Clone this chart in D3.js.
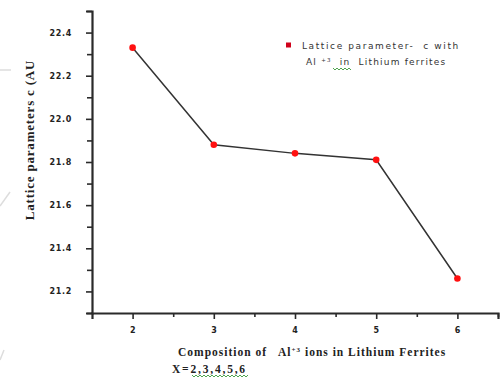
<!DOCTYPE html>
<html>
<head>
<meta charset="utf-8">
<script src="https://cdn.jsdelivr.net/npm/d3@7"></script>
<style>
  html, body { margin: 0; padding: 0; background: #fff; }
  svg { display: block; }
  svg text { white-space: pre; }
</style>
</head>
<body>
<svg id="chart" width="504" height="378"></svg>
<script>
// Aluminium content x in the lithium ferrite series
const composition = [2, 3, 4, 5, 6];
// Lattice parameter c (Å) for each composition
const latticeC = [22.33, 21.88, 21.84, 21.81, 21.26];
const yTickValues = [21.2, 21.4, 21.6, 21.8, 22.0, 22.2, 22.4];
const yMinorValues = [21.1, 21.3, 21.5, 21.7, 21.9, 22.1, 22.3, 22.5];
const xTickValues = [2, 3, 4, 5, 6];
const xMinorValues = [2.5, 3.5, 4.5, 5.5, 6.5];

const svg = d3.select("#chart");

const x = d3.scaleLinear().domain([1.5, 6.5]).range([92, 498]);
const y = d3.scaleLinear().domain([21.1, 22.5]).range([313, 11]);

// faint page decoration at the left edge
const deco = svg.append("g").attr("stroke", "#ddd").attr("fill", "none").attr("stroke-width", 1.5);
deco.append("line").attr("x1", 0).attr("y1", 70).attr("x2", 11).attr("y2", 70);
deco.append("line").attr("x1", 0).attr("y1", 206).attr("x2", 10).attr("y2", 192);
deco.append("line").attr("x1", 0).attr("y1", 360).attr("x2", 4).attr("y2", 350);

// Y axis
svg.append("g")
  .attr("transform", `translate(${x(1.5)},0)`)
  .call(d3.axisLeft(y).tickValues(yTickValues).tickFormat(d3.format(".1f")).tickSize(6).tickPadding(14));
svg.append("g")
  .attr("transform", `translate(${x(1.5)},0)`)
  .call(d3.axisLeft(y).tickValues(yMinorValues).tickFormat("").tickSize(5))
  .select(".domain").remove();

// X axis
svg.append("g")
  .attr("transform", `translate(0,${y(21.1)})`)
  .call(d3.axisBottom(x).tickValues(xTickValues).tickFormat(d3.format("d")).tickSize(6).tickPadding(8));
svg.append("g")
  .attr("transform", `translate(0,${y(21.1)})`)
  .call(d3.axisBottom(x).tickValues(xMinorValues).tickFormat("").tickSize(4))
  .select(".domain").remove();

svg.selectAll(".domain").attr("stroke", "#2a2a2a").attr("stroke-width", 2.2);
svg.selectAll(".tick line").attr("stroke", "#2a2a2a").attr("stroke-width", 1.6);
svg.selectAll(".tick text")
  .attr("font-family", "'DejaVu Sans', sans-serif")
  .attr("font-weight", "bold")
  .attr("font-size", 8)
  .attr("letter-spacing", 0.7)
  .attr("fill", "#222");

// data line
const pts = composition.map((c, i) => [c, latticeC[i]]);
svg.append("path")
  .datum(pts)
  .attr("fill", "none")
  .attr("stroke", "#333")
  .attr("stroke-width", 1.5)
  .attr("d", d3.line().x(d => x(d[0])).y(d => y(d[1])));

svg.selectAll("circle.pt")
  .data(pts)
  .enter().append("circle")
  .attr("class", "pt")
  .attr("cx", d => x(d[0]))
  .attr("cy", d => y(d[1]))
  .attr("r", 3.3)
  .attr("fill", "#ff1010");

// legend
const lg = svg.append("g").attr("font-family", "'DejaVu Sans', sans-serif").attr("font-size", 9).attr("fill", "#333");
lg.append("rect").attr("x", 286).attr("y", 42.5).attr("width", 5).attr("height", 5).attr("fill", "#d0021b");
lg.append("text").attr("x", 302).attr("y", 49).attr("letter-spacing", 1.6)
  .text("Lattice parameter-  c with");
const l2 = lg.append("text").attr("x", 306).attr("y", 65).attr("letter-spacing", 1.2);
l2.append("tspan").text("Al ");
l2.append("tspan").attr("font-size", 5.5).attr("dy", -3).text("+3");
l2.append("tspan").attr("dy", 3).text("  in  Lithium ferrites");

// spelling squiggles
function squiggle(x0, x1, yy) {
  let d = `M${x0},${yy}`;
  for (let xx = x0, k = 0; xx < x1; xx += 2, k++) {
    d += ` L${xx + 2},${yy + (k % 2 === 0 ? 2 : 0)}`;
  }
  svg.append("path").attr("d", d).attr("fill", "none").attr("stroke", "#3a9a3a").attr("stroke-width", 0.9);
}
squiggle(333, 350, 68);

// axis titles
svg.append("text")
  .attr("transform", "translate(34,140) rotate(-90)")
  .attr("text-anchor", "middle")
  .attr("font-family", "'Liberation Serif', 'Times New Roman', serif")
  .attr("font-weight", "bold")
  .attr("font-size", 13)
  .attr("letter-spacing", 0.8)
  .attr("fill", "#222")
  .text("Lattice parameters c (AU");

const xt = svg.append("text")
  .attr("x", 178).attr("y", 356)
  .attr("font-family", "'Liberation Serif', 'Times New Roman', serif")
  .attr("font-weight", "bold")
  .attr("font-size", 11.5)
  .attr("letter-spacing", 1.0)
  .attr("fill", "#222");
xt.append("tspan").text("Composition of   Al");
xt.append("tspan").attr("font-size", 7).attr("dy", -4).text("+3");
xt.append("tspan").attr("dy", 4).text(" ions in Lithium Ferrites");

svg.append("text")
  .attr("x", 172).attr("y", 373)
  .attr("font-family", "'Liberation Serif', 'Times New Roman', serif")
  .attr("font-weight", "bold")
  .attr("font-size", 11.5)
  .attr("letter-spacing", 1.8)
  .attr("fill", "#222")
  .text("X=2,3,4,5,6");
squiggle(192, 248, 375);
</script>
</body>
</html>
